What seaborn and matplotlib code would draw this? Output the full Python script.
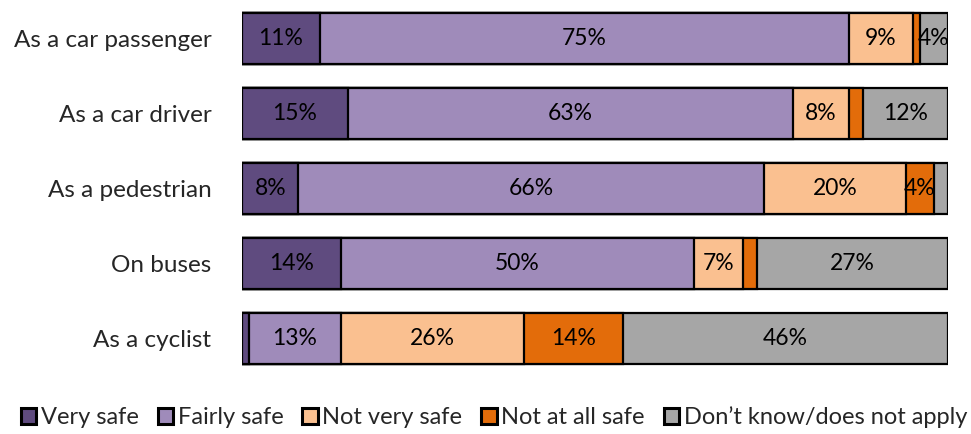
import matplotlib
matplotlib.use("Agg")
import matplotlib.pyplot as plt
from matplotlib.patches import Patch
import numpy as np
import pandas as pd
import seaborn as sns

# Survey responses: how safe people feel travelling in each way (%)
modes = ["As a car passenger", "As a car driver", "As a pedestrian", "On buses", "As a cyclist"]
categories = ["Very safe", "Fairly safe", "Not very safe", "Not at all safe",
              "Don\u2019t know/does not apply"]
very_safe = [11, 15, 8, 14, 1]
fairly_safe = [75, 63, 66, 50, 13]
not_very_safe = [9, 8, 20, 7, 26]
not_at_all_safe = [1, 2, 4, 2, 14]
dont_know = [4, 12, 2, 27, 46]
colors = ["#5F4B7F", "#9F8BBA", "#FAC090", "#E36C0A", "#A6A6A6"]

series = [very_safe, fairly_safe, not_very_safe, not_at_all_safe, dont_know]
df = pd.DataFrame({cat: vals for cat, vals in zip(categories, series)}, index=modes)
cum = df.cumsum(axis=1)

sns.set_theme(style="white")
plt.rcParams["font.family"] = ["Lato", "DejaVu Sans"]

fig = plt.figure(figsize=(9.71, 4.34), dpi=100)
ax = fig.add_axes([242 / 971, 58 / 434, 706 / 971, 375 / 434])

# Stack by drawing cumulative totals from the back to the front
for cat, color in reversed(list(zip(categories, colors))):
    sns.barplot(x=cum[cat].values, y=modes, orient="h", color=color,
                edgecolor="black", linewidth=1.6, width=0.68, ax=ax,
                saturation=1)

# Percentage labels centred in each segment
for i, mode in enumerate(modes):
    left = 0
    for cat in categories:
        v = df.loc[mode, cat]
        if v >= 3:
            ax.text(left + v / 2, i, f"{v:g}%", ha="center", va="center",
                    fontsize=16.5, color="black")
        left += v

ax.set_xlim(0, 100)
ax.set_ylim(4.5, -0.5)
ax.set_xlabel("")
ax.set_ylabel("")
ax.set_xticks([])
ax.tick_params(axis="y", length=0, pad=22, labelsize=17.5)
for s in ax.spines.values():
    s.set_visible(False)

handles = [Patch(facecolor=c, edgecolor="black", linewidth=2.2) for c in colors]
fig.legend(handles, categories, loc="center", bbox_to_anchor=(494 / 971, 1 - 417 / 434),
           ncol=5, frameon=False, fontsize=17, handlelength=0.65, handleheight=0.65,
           handletextpad=0.2, columnspacing=0.8)

fig.savefig("out.png", dpi=100)
